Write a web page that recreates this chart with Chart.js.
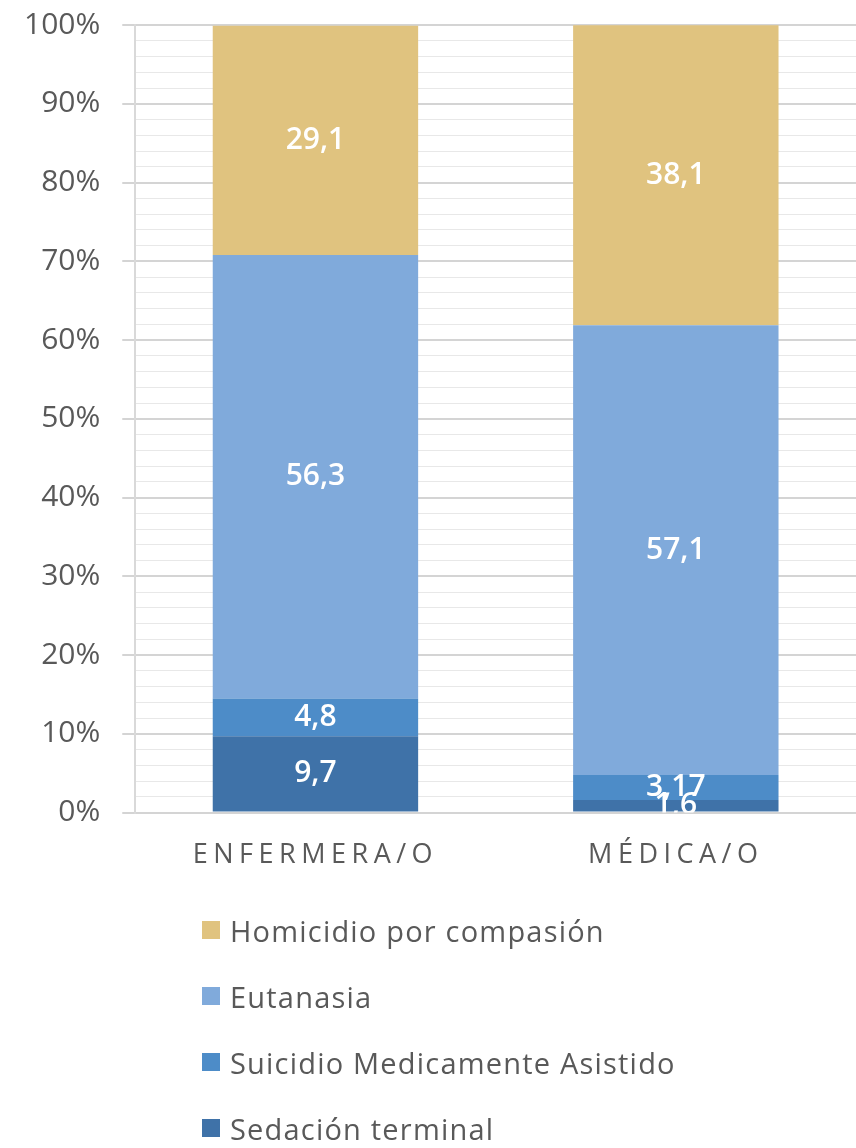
<!DOCTYPE html>
<html>
<head>
<meta charset="utf-8">
<script src="https://cdn.jsdelivr.net/npm/chart.js@4/dist/chart.umd.min.js"></script>
<style>
  body { margin: 0; background: #fff; font-family: "Open Sans", sans-serif; }
  #wrap { position: relative; width: 856px; height: 1148px; overflow: hidden; }
  #chartBox { position: absolute; left: 0; top: 0; width: 856px; height: 899px; }
  #legend { position: absolute; left: 202px; top: 897px; list-style: none; margin: 0; padding: 0; }
  #legend li { display: flex; align-items: center; height: 66px; font-size: 29px; color: #595959; letter-spacing: 1.2px; }
  #legend li span.box { display: inline-block; width: 18px; height: 18px; margin-right: 10px; }
</style>
</head>
<body>
<div id="wrap">
  <div id="chartBox"><canvas id="chart"></canvas></div>
  <ul id="legend"></ul>
</div>
<script>
const categories = ['ENFERMERA/O', 'MÉDICA/O'];
const sedacion = [9.7, 1.6];
const suicidio = [4.8, 3.17];
const eutanasia = [56.3, 57.1];
const homicidio = [29.1, 38.1];
const yTicks = [0, 10, 20, 30, 40, 50, 60, 70, 80, 90, 100];

const colors = {
    sedacion: '#3F72A8',
    suicidio: '#4D8CC8',
    eutanasia: '#80AADB',
    homicidio: '#E0C37F'
};

// values written inside each segment, comma decimal like the original
const segmentLabels = {
    id: 'segmentLabels',
    afterDatasetsDraw(chart) {
        const ctx = chart.ctx;
        const area = chart.chartArea;
        ctx.save();
        ctx.beginPath();
        ctx.rect(area.left, area.top, area.right - area.left, area.bottom - area.top);
        ctx.clip();
        ctx.fillStyle = '#ffffff';
        ctx.font = '600 30px "Open Sans"';
        ctx.textAlign = 'center';
        ctx.textBaseline = 'middle';
        chart.data.datasets.forEach((ds, i) => {
            chart.getDatasetMeta(i).data.forEach((bar, j) => {
                const txt = String(ds.data[j]).replace('.', ',');
                ctx.fillText(txt, bar.x, (bar.y + bar.base) / 2);
            });
        });
        ctx.restore();
    }
};

// spaced out category labels
const spacedXLabels = {
    id: 'spacedXLabels',
    beforeDraw(chart) {
        const s = chart.scales.x;
        if (s._spaced) return;
        const orig = s.drawLabels.bind(s);
        s.drawLabels = function(area) {
            chart.ctx.save();
            chart.ctx.letterSpacing = '5.5px';
            orig(area);
            chart.ctx.restore();
        };
        s._spaced = true;
    }
};

const ctx = document.getElementById('chart').getContext('2d');
const chart = new Chart(ctx, {
    type: 'bar',
    data: {
        labels: categories,
        datasets: [
            { label: 'Sedación terminal', data: sedacion, backgroundColor: colors.sedacion },
            { label: 'Suicidio Medicamente Asistido', data: suicidio, backgroundColor: colors.suicidio },
            { label: 'Eutanasia', data: eutanasia, backgroundColor: colors.eutanasia },
            { label: 'Homicidio por compasión', data: homicidio, backgroundColor: colors.homicidio }
        ]
    },
    options: {
        responsive: true,
        maintainAspectRatio: false,
        animation: false,
        layout: { padding: { top: 0, left: 2, right: 0, bottom: 0 } },
        datasets: { bar: { categoryPercentage: 1, barPercentage: 0.57, borderWidth: 0 } },
        plugins: {
            legend: { display: false },
            tooltip: { enabled: false }
        },
        scales: {
            x: {
                stacked: true,
                grid: { display: false, drawTicks: false },
                border: { display: false },
                ticks: {
                    color: '#595959',
                    font: { family: 'Open Sans', size: 27 },
                    padding: 27,
                    maxRotation: 0
                }
            },
            y: {
                stacked: true,
                min: 0,
                max: 100,
                afterBuildTicks(scale) {
                    const t = [];
                    for (let v = 0; v <= 100; v += 2) t.push({ value: v });
                    scale.ticks = t;
                },
                grid: {
                    color: c => (yTicks.includes(c.tick.value) ? '#d4d4d4' : '#e8e8e8'),
                    tickColor: c => (yTicks.includes(c.tick.value) ? '#d4d4d4' : 'rgba(0,0,0,0)'),
                    tickLength: 13,
                    lineWidth: c => (yTicks.includes(c.tick.value) ? 2 : 1)
                },
                border: { display: true, color: '#d9d9d9', width: 2 },
                ticks: {
                    autoSkip: false,
                    color: '#595959',
                    font: { family: 'Open Sans', size: 30, lineHeight: 0.2 },
                    padding: 22,
                    callback: v => (yTicks.includes(v) ? v + '%' : '')
                }
            }
        }
    },
    plugins: [segmentLabels, spacedXLabels]
});

// legend as a column under the chart, top series first
const legendEl = document.getElementById('legend');
Chart.defaults.plugins.legend.labels.generateLabels(chart).reverse().forEach(item => {
    const li = document.createElement('li');
    const box = document.createElement('span');
    box.className = 'box';
    box.style.background = item.fillStyle;
    li.appendChild(box);
    li.appendChild(document.createTextNode(item.text));
    legendEl.appendChild(li);
});
</script>
</body>
</html>
